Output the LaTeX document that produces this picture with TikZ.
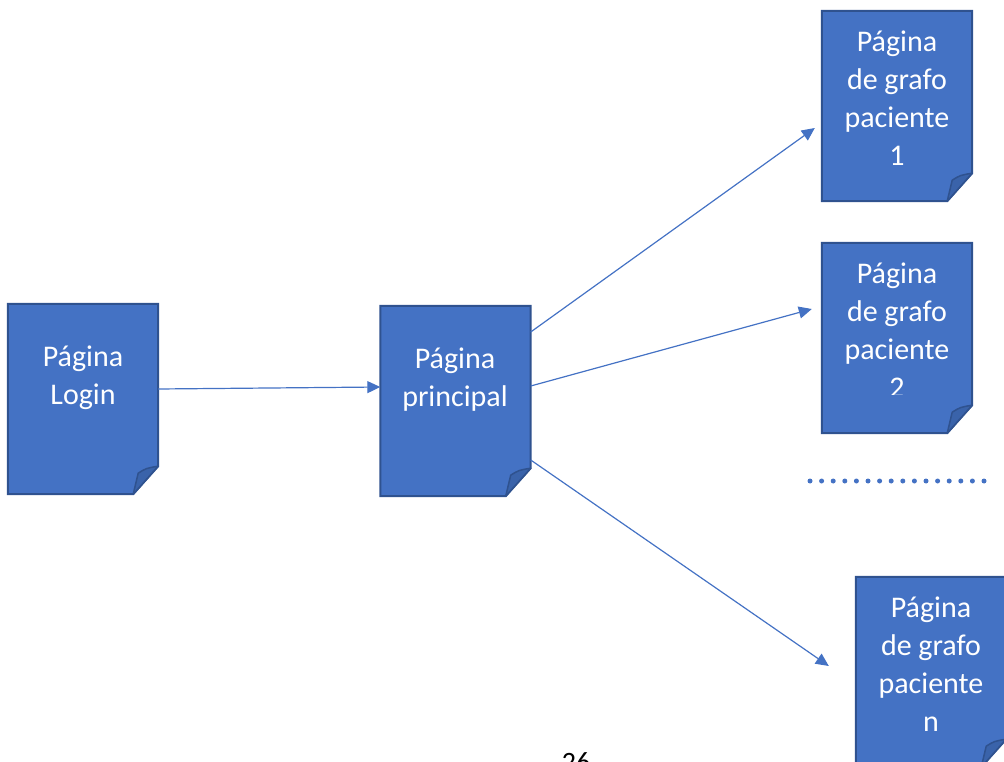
\documentclass[tikz,border=0pt]{standalone}
\usepackage{fontspec}
\setmainfont{Carlito}
\usetikzlibrary{arrows.meta}
\definecolor{azul}{HTML}{4472C4}
\definecolor{borde}{HTML}{2F528F}
\definecolor{doblez}{HTML}{3A63AA}
\tikzset{
  pagina/.style={minimum width=150pt, minimum height=190pt, inner sep=0pt},
  hoja/.style={fill=azul, draw=borde, line width=2pt},
  pliegue/.style={fill=doblez, draw=borde, line width=1.5pt, line join=round},
  texto/.style={text=white, align=center, inner sep=0pt, font=\fontsize{30}{38}\selectfont},
  flecha/.style={draw=azul, line width=1.2pt, -{Triangle[length=13pt,width=12pt]}}
}
\begin{document}
\begin{tikzpicture}[x=1pt,y=-1pt]
    \useasboundingbox (0,0) rectangle (1004,762);
    % paginas
    \node[pagina] (login) at (83,399) {};
    \node[pagina] (princ) at (455.5,401) {};
    \node[pagina] (g1) at (897,106) {};
    \node[pagina] (g2) at (897,338) {};
    \node[pagina] (gn) at (931,672) {};
    \foreach \n in {login,princ,g1,g2,gn} {
      \draw[hoja] (\n.north west) -- (\n.north east) -- ([yshift=28pt]\n.south east)
        -- ([xshift=-25pt]\n.south east) -- (\n.south west) -- cycle;
      \draw[pliegue] ([yshift=28pt]\n.south east)
        .. controls ([xshift=-12pt,yshift=26pt]\n.south east) .. ([xshift=-20pt,yshift=21pt]\n.south east)
        .. controls ([xshift=-22pt,yshift=10pt]\n.south east) .. ([xshift=-25pt]\n.south east) -- cycle;
    }
    % textos
    \node[texto] (loginT) at (83,378) {Página\\Login};
    \node[texto] (princT) at (455,380) {Página\\principal};
    \node[texto] (g1T) at (897,98) {Página\\de grafo\\paciente\\1};
    \begin{scope}
      \clip (822,243) rectangle (972,394);
      \node[texto] (g2T) at (897,330) {Página\\de grafo\\paciente\\2};
    \end{scope}
    \node[texto] (gnT) at (931,664) {Página\\de grafo\\paciente\\n};
    % flechas
    \draw[flecha] ([yshift=10pt]login.east) -- ([yshift=14pt]princ.west);
    \draw[flecha] ([yshift=69pt]princ.east) -- ([xshift=-7pt,yshift=-22pt]g1.west);
    \draw[flecha] ([yshift=15pt]princ.east) -- ([xshift=-10pt,yshift=29pt]g2.west);
    \draw[flecha] ([yshift=-59pt]princ.east) -- ([xshift=-27pt,yshift=6pt]gn.west);
    % puntos
    \draw[azul, line width=5pt, line cap=round, dash pattern=on 0pt off 11.6pt] (810,481) -- (995,481);
    % numero de pagina
    \node[anchor=base, inner sep=0pt, font=\fontsize{28}{34}\selectfont] (num) at (576,771) {26};
\end{tikzpicture}
\end{document}
